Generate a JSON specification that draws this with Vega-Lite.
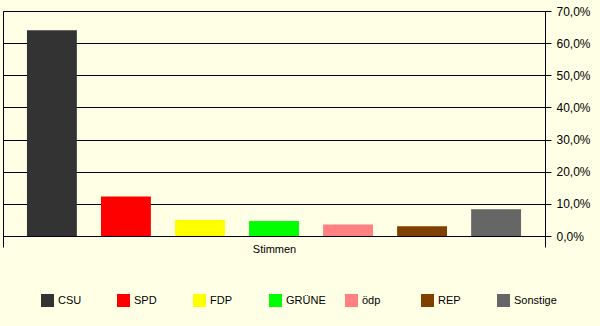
{
  "$schema": "https://vega.github.io/schema/vega-lite/v6.json",
  "width": 542,
  "height": 225,
  "autosize": {"type": "none"},
  "padding": {"left": 3, "top": 11, "right": 55, "bottom": 90},
  "background": "#ffffe6",
  "data": {
    "values": [
      {"cat": "Stimmen", "party": "CSU", "value": 64.0},
      {"cat": "Stimmen", "party": "SPD", "value": 12.3},
      {"cat": "Stimmen", "party": "FDP", "value": 5.0},
      {"cat": "Stimmen", "party": "GRÜNE", "value": 4.7},
      {"cat": "Stimmen", "party": "ödp", "value": 3.6},
      {"cat": "Stimmen", "party": "REP", "value": 3.0},
      {"cat": "Stimmen", "party": "Sonstige", "value": 8.3}
    ]
  },
  "mark": {"type": "bar"},
  "encoding": {
    "x": {
      "field": "cat",
      "type": "nominal",
      "scale": {"paddingInner": 0, "paddingOuter": 0},
      "axis": {
        "title": null,
        "labelAngle": 0,
        "labelFont": "Liberation Sans",
        "labelFontSize": 11,
        "labelColor": "#000000",
        "labelPadding": -4,
        "tickBand": "extent",
        "tickSize": 11,
        "tickColor": "#000000",
        "domainColor": "#000000"
      }
    },
    "xOffset": {
      "field": "party",
      "type": "nominal",
      "sort": null,
      "scale": {"paddingInner": 0.326, "paddingOuter": 0.3236}
    },
    "y": {
      "field": "value",
      "type": "quantitative",
      "scale": {"domain": [0, 70], "nice": false},
      "axis": {
        "orient": "right",
        "title": null,
        "values": [0, 10, 20, 30, 40, 50, 60, 70],
        "labelExpr": "replace(format(datum.value, '.1f'), '.', ',') + '%'",
        "labelFont": "Liberation Sans",
        "labelFontSize": 12,
        "labelColor": "#000000",
        "labelPadding": 5,
        "tickSize": 6,
        "tickColor": "#000000",
        "domainColor": "#000000",
        "grid": true,
        "gridColor": "#000000",
        "gridOpacity": 1
      }
    },
    "color": {
      "field": "party",
      "type": "nominal",
      "sort": null,
      "scale": {
        "domain": ["CSU", "SPD", "FDP", "GRÜNE", "ödp", "REP", "Sonstige"],
        "range": ["#333333", "#ff0000", "#ffff00", "#00ff00", "#ff8080", "#804000", "#666666"]
      },
      "legend": {
        "title": null,
        "orient": "none",
        "legendX": 38,
        "legendY": 283,
        "direction": "horizontal",
        "columns": 7,
        "gridAlign": "all",
        "columnPadding": 16,
        "padding": 0,
        "symbolType": "square",
        "symbolSize": 169,
        "symbolStrokeWidth": 0,
        "symbolOpacity": 1,
        "labelFont": "Liberation Sans",
        "labelFontSize": 11,
        "labelColor": "#000000",
        "labelOffset": 4
      }
    }
  },
  "config": {
    "view": {"stroke": "#000000", "strokeWidth": 1},
    "axis": {"gridWidth": 1, "domainWidth": 1, "tickWidth": 1}
  }
}
